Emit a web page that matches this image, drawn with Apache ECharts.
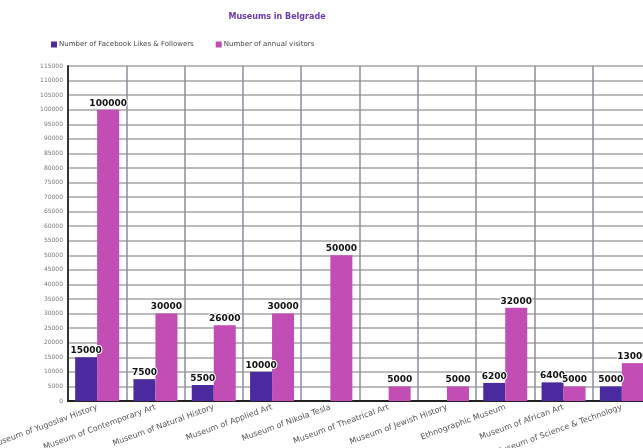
<!DOCTYPE html>
<html><head><meta charset="utf-8">
<script src="https://cdn.jsdelivr.net/npm/echarts@6/dist/echarts.min.js"></script>
<style>html,body{margin:0;padding:0;background:#fff}#c{width:643px;height:448px}</style>
</head><body><div id="c"></div>
<script>
const categories = ["Museum of Yugoslav History","Museum of Contemporary Art","Museum of Natural History","Museum of Applied Art","Museum of Nikola Tesla","Museum of Theatrical Art","Museum of Jewish History","Ethnographic Museum","Museum of African Art","Museum of Science & Technology"];
const facebook = [15000, 7500, 5500, 10000, null, null, null, 6200, 6400, 5000];
const visitors = [100000, 30000, 26000, 30000, 50000, 5000, 5000, 32000, 5000, 13000];
const seriesNames = ["Number of Facebook Likes & Followers", "Number of annual visitors"];
const yMax = 115000, yStep = 5000;

const chart = echarts.init(document.getElementById('c'));
const lbl = {show:true, position:'top', distance:2, color:'#111', fontSize:9, fontWeight:'bold', fontFamily:'DejaVu Sans', textBorderColor:'#fff', textBorderWidth:2};
chart.setOption({
  animation:false,
  title:{text:'Museums in Belgrade', left:272, top:8, textAlign:'center', textStyle:{color:'#6a3aa8', fontSize:8, fontWeight:'bold', fontFamily:'DejaVu Sans'}},
  legend:{left:46, top:36, itemWidth:6, itemHeight:6, itemGap:22, icon:'rect', textStyle:{fontSize:7, color:'#444', fontFamily:'DejaVu Sans', padding:[0,0,0,-3]}, data:seriesNames},
  grid:{left:68, top:66, bottom:47, width:583, containLabel:false, outerBoundsMode:'none'},
  xAxis:{type:'category', data:categories,
    axisLine:{lineStyle:{color:'#222', width:2}},
    axisTick:{show:false},
    splitLine:{show:true, lineStyle:{color:'#8a8f9a', width:1.5}},
    axisLabel:{rotate:20, fontSize:8, color:'#555', margin:6, interval:0, fontFamily:'DejaVu Sans'}},
  yAxis:{type:'value', min:0, max:yMax, interval:yStep,
    axisLine:{show:true, lineStyle:{color:'#333', width:2}},
    axisTick:{show:false},
    splitLine:{lineStyle:{color:'#a5a5a5', width:1.5}},
    axisLabel:{fontSize:6, color:'#777', margin:5, fontFamily:'DejaVu Sans', formatter:function(v){return String(v);}}},
  series:[
    {name:seriesNames[0], type:'bar', data:facebook, barWidth:22, barGap:'0%', itemStyle:{color:'#4a2a9e'}, label:lbl},
    {name:seriesNames[1], type:'bar', data:visitors, barWidth:22, itemStyle:{color:'#c24db5'}, label:lbl}
  ]
});
</script></body></html>
